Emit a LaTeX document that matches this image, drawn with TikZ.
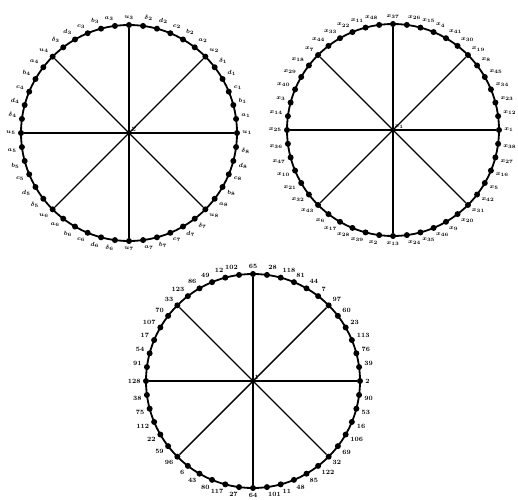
\documentclass[tikz,border=0pt]{standalone}
\usepackage{amsmath,amssymb}
\usetikzlibrary{calc}

\begin{document}
\begin{tikzpicture}[x=1pt,y=1pt]
  \tikzset{
    v/.style={circle,fill,inner sep=0pt,minimum size=6pt},
    hub/.style={inner sep=0pt,minimum size=0pt},
    lab/.style={font=\fontsize{6.5}{6.5}\selectfont\bfseries\boldmath,inner sep=0.5pt,label distance=1.5pt},
    spoke/.style={line width=1.4pt},
    rim/.style={line width=1.8pt}}
  \useasboundingbox (0,0) rectangle (518,499);

  % wheel A: letters
  \node[hub] (A) at (129,366) {};
  \node[lab, above right=1pt] at (A) {$Z$};
  \draw[rim] (A) circle (108);
  \foreach \i in {0,...,47} {
    \pgfmathsetmacro\ang{\i*7.5}
    \pgfmathtruncatemacro\oct{int(\i/6)+1}
    \pgfmathtruncatemacro\pos{mod(\i,6)}
    \ifcase\pos \def\lbl{u_{\oct}}\or \def\lbl{a_{\oct}}\or \def\lbl{b_{\oct}}\or
      \def\lbl{c_{\oct}}\or \def\lbl{d_{\oct}}\or \def\lbl{\delta_{\oct}}\fi
    \node[v, label={[lab]\ang:$\lbl$}] (a\i) at ($(A)+(\ang:108)$) {};
  }
  \foreach \i in {0,6,...,42} \draw[spoke] (A.center) -- (a\i);

  % wheel B: x's
  \node[hub] (B) at (393,369) {};
  \node[lab, above right=1pt] at (B) {$x_1$};
  \draw[rim] (B) circle (106);
  \foreach \i in {0,...,47} {
    \pgfmathsetmacro\ang{\i*7.5}
    \pgfmathtruncatemacro\n{mod(\i*11,48)+1}
    \node[v, label={[lab]\ang:$x_{\n}$}] (b\i) at ($(B)+(\ang:106)$) {};
  }
  \foreach \i in {0,6,...,42} \draw[spoke] (B.center) -- (b\i);

  % wheel C: numbers
  \node[hub] (C) at (253,118) {};
  \node[lab, above right=1pt] at (C) {1};
  \draw[rim] (C) circle (107);
  \foreach \i in {0,...,47} {
    \pgfmathsetmacro\ang{\i*7.5}
    \pgfmathtruncatemacro\n{mod(\i*37,127)+2}
    \node[v, label={[lab]\ang:\n}] (c\i) at ($(C)+(\ang:107)$) {};
  }
  \foreach \i in {0,6,...,42} \draw[spoke] (C.center) -- (c\i);
\end{tikzpicture}
\end{document}
